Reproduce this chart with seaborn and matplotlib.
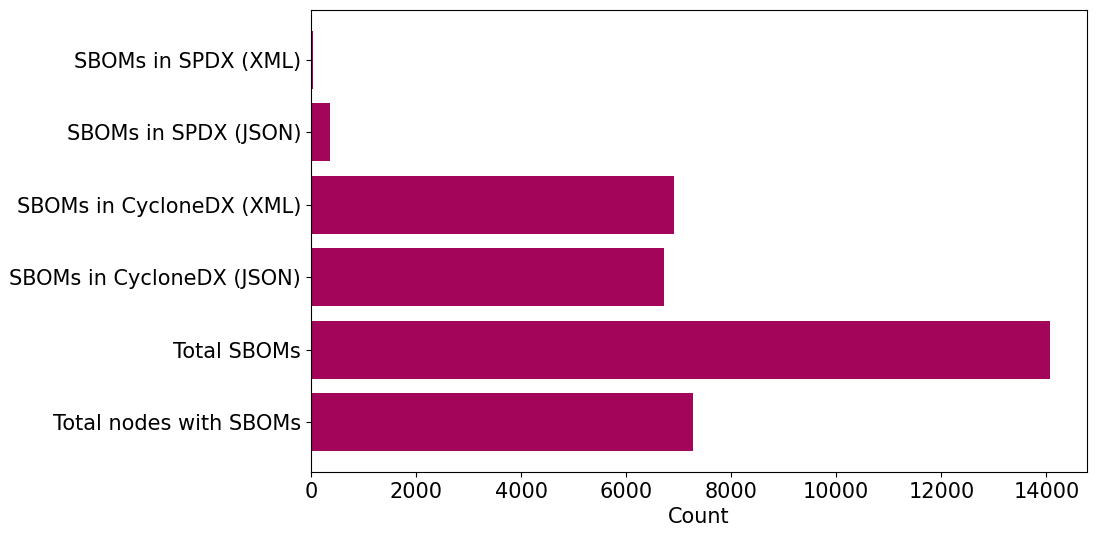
import matplotlib
matplotlib.use("Agg")
import matplotlib.pyplot as plt
import pandas as pd
import seaborn as sns

CATEGORIES = [
    "SBOMs in SPDX (XML)",
    "SBOMs in SPDX (JSON)",
    "SBOMs in CycloneDX (XML)",
    "SBOMs in CycloneDX (JSON)",
    "Total SBOMs",
    "Total nodes with SBOMs",
]
COUNTS = [45, 368, 6920, 6730, 14063, 7282]
BAR_COLOR = "#a3055a"

df = pd.DataFrame({"category": CATEGORIES, "count": COUNTS})

plt.rcParams["font.family"] = ["DejaVu Sans"]
fig = plt.figure(figsize=(10.96, 5.37), dpi=100)
ax = fig.add_axes([310.9 / 1096, 1 - 472 / 537, (1086.7 - 310.9) / 1096, (472 - 10) / 537])

sns.barplot(data=df, x="count", y="category", order=CATEGORIES, orient="h",
            color=BAR_COLOR, saturation=1, width=0.8, ax=ax)

n = len(CATEGORIES)
ax.set_ylim(n - 1 + 0.69, -0.69)
ax.set_xlim(0, max(COUNTS) * 1.05)
ax.set_xlabel("Count", fontsize=15)
ax.set_ylabel("")
ax.tick_params(axis="both", labelsize=15)

fig.savefig("out.png", dpi=100)
